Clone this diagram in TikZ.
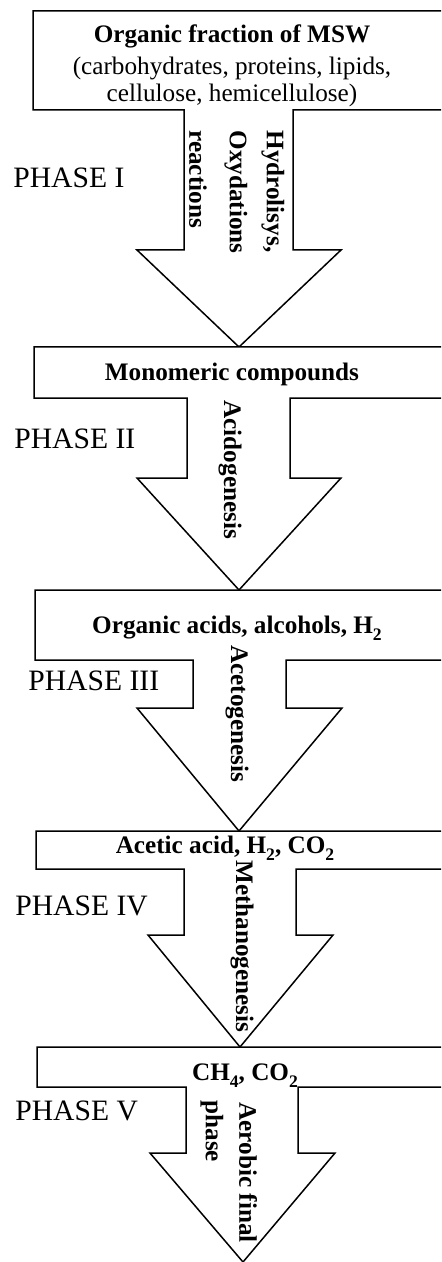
\documentclass[tikz,border=0pt]{standalone}
\usepackage{fontspec}
\setmainfont{Liberation Serif}
\newcommand{\chemsub}[1]{\raisebox{-0.3em}{\fontsize{8.8}{9}\selectfont #1}}
\begin{document}
\begin{tikzpicture}[x=0.5pt,y=-0.5pt,
        stage/.style={draw,fill=white,line width=0.75pt,line join=miter},
        boxtext/.style={font=\fontsize{12.6}{15}\selectfont\bfseries,inner sep=0pt,anchor=base},
        subtext/.style={font=\fontsize{12.6}{15}\selectfont,inner sep=0pt,anchor=base},
        steptext/.style={font=\fontsize{12.6}{15}\selectfont\bfseries,inner sep=0pt,rotate=-90,anchor=west},
        phase/.style={font=\fontsize{14.8}{18}\selectfont,inner sep=0pt,anchor=base west}]

    \useasboundingbox (0,0) rectangle (441,1262);
    \clip (0,0) rectangle (441,1262);

    % box and arrow of each phase
    \foreach \t/\b/\l/\sl/\sr/\sb/\hl/\hr/\tx/\ty in {
            11/110/33/184/293/250/137/341/239/347,
            347/398/34/187/290/478/137/341/239/590,
            590/660/35/193/286/708/137/342/239/831,
            831/869/36/184/296/935/148/333/240/1047,
            1047/1087/37/186/298/1153/150/335/243/1262}
        \draw[stage] (450,\t) -- (\l,\t) -- (\l,\b) -- (\sl,\b) -- (\sl,\sb) -- (\hl,\sb)
            -- (\tx,\ty) -- (\hr,\sb) -- (\sr,\sb) -- (\sr,\b) -- (450,\b);

    % phase I
    \node[boxtext] (msw) at (232,43) {Organic fraction of MSW};
    \node[subtext] (mswa) at (232,75) {(carbohydrates, proteins, lipids,};
    \node[subtext] (mswb) at (232,102) {cellulose, hemicellulose)};
    \node[steptext] (hydro) at (273,130) {Hydrolisys,};
    \node[steptext] (oxyd) at (236,130) {Oxydations};
    \node[steptext] (react) at (198,130) {reactions};
    \node[phase] (ph1) at (13,188) {PHASE I};

    % phase II
    \node[boxtext] (mono) at (232,380) {Monomeric compounds};
    \node[steptext] (acido) at (230,400) {Acidogenesis};
    \node[phase] (ph2) at (14,448) {PHASE II};

    % phase III
    \node[boxtext] (acids) at (237,633) {Organic acids, alcohols, H\chemsub{2}};
    \node[steptext] (aceto) at (237,645) {Acetogenesis};
    \node[phase] (ph3) at (28,690) {PHASE III};

    % phase IV
    \node[boxtext] (acetic) at (225,853) {Acetic acid, H\chemsub{2}, CO\chemsub{2}};
    \node[steptext] (metha) at (242,860) {Methanogenesis};
    \node[phase] (ph4) at (15,915) {PHASE IV};

    % phase V
    \node[boxtext] (biogas) at (245,1080) {CH\chemsub{4}, CO\chemsub{2}};
    \node[steptext] (aerob) at (248,1102) {Aerobic final};
    \node[steptext] (aerobb) at (212,1100) {phase};
    \node[phase] (ph5) at (15,1120) {PHASE V};
\end{tikzpicture}
\end{document}
